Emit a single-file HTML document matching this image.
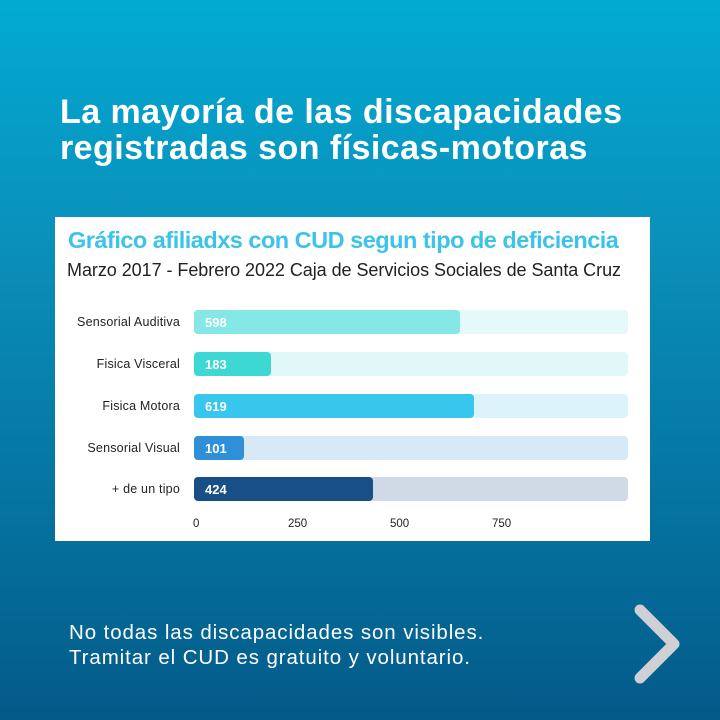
<!DOCTYPE html>
<html><head><meta charset="utf-8"><style>
body{margin:0;width:720px;height:720px;overflow:hidden;font-family:"Liberation Sans",sans-serif;
background:linear-gradient(180deg,#02aad2 0%,#0a8fba 35%,#0573a0 70%,#045a89 100%);position:relative}
.t{position:absolute;left:60px;top:94px;color:#fff;font-weight:bold;font-size:34px;line-height:36px;letter-spacing:0.45px;white-space:nowrap}
.card{position:absolute;left:55px;top:217px;width:595px;height:324px;background:#fff}
.ct{position:absolute;left:13px;top:10px;color:#3cc3ea;font-weight:bold;font-size:23.5px;letter-spacing:-0.5px;white-space:nowrap}
.cs{position:absolute;left:12px;top:43px;color:#222;font-size:18px;white-space:nowrap;letter-spacing:-0.05px}
.lab{position:absolute;right:470px;font-size:12.5px;color:#222;width:140px;text-align:right;letter-spacing:0.2px}
.bg{position:absolute;left:139px;width:434px;height:24px;border-radius:4px}
.b{position:absolute;left:0;top:0;height:24px;border-radius:4px;color:#fff;font-weight:bold;font-size:13px;line-height:26px;padding-left:11px;box-sizing:border-box}
.ax{position:absolute;top:301px;font-size:11.5px;color:#222}
.f{position:absolute;left:69px;top:620px;color:#fff;font-size:20.5px;line-height:25px;letter-spacing:0.9px;white-space:nowrap}
</style></head><body>
<div class="t">La mayoría de las discapacidades<br>registradas son físicas-motoras</div>
<div class="card">
<div class="ct">Gráfico afiliadxs con CUD segun tipo de deficiencia</div>
<div class="cs">Marzo 2017 - Febrero 2022 Caja de Servicios Sociales de Santa Cruz</div>
<div class="lab" style="top:98px">Sensorial Auditiva</div>
<div class="bg" style="top:93px;background:#e6f9fa"><div class="b" style="width:266px;background:#86e8e6">598</div></div>
<div class="lab" style="top:140px">Fisica Visceral</div>
<div class="bg" style="top:135px;background:#e0f8f8"><div class="b" style="width:77px;background:#3dd8d3">183</div></div>
<div class="lab" style="top:182px">Fisica Motora</div>
<div class="bg" style="top:177px;background:#ddf3fb"><div class="b" style="width:280px;background:#38c6ed">619</div></div>
<div class="lab" style="top:224px">Sensorial Visual</div>
<div class="bg" style="top:219px;background:#d7e8f6"><div class="b" style="width:50px;background:#2f8fd8">101</div></div>
<div class="lab" style="top:265px">+ de un tipo</div>
<div class="bg" style="top:260px;background:#d0dae6"><div class="b" style="width:179px;background:#184f86">424</div></div>
<div class="ax" style="left:138px">0</div>
<div class="ax" style="left:233px">250</div>
<div class="ax" style="left:335px">500</div>
<div class="ax" style="left:437px">750</div>
</div>
<div class="f">No todas las discapacidades son visibles.<br>Tramitar el CUD es gratuito y voluntario.</div>
<svg style="position:absolute;left:628px;top:600px" width="60" height="90"><polyline points="12,10 46,44 12,78" fill="none" stroke="#d0d0d4" stroke-width="11" stroke-linecap="round" stroke-linejoin="round"/></svg>
</body></html>
